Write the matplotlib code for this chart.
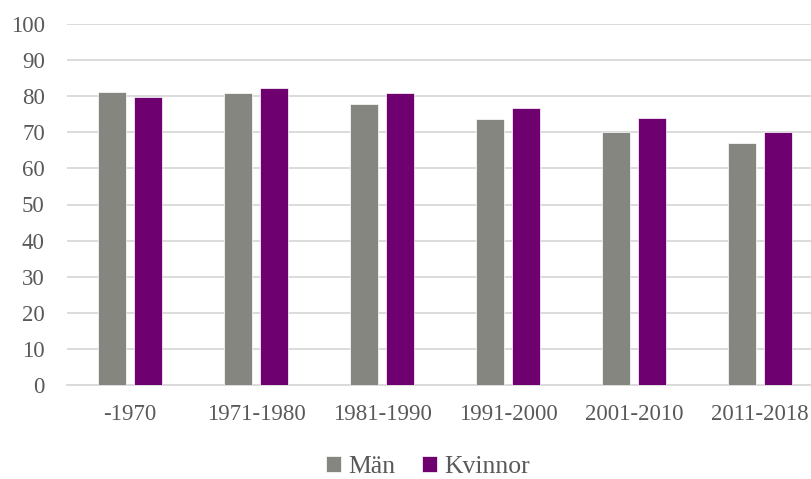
import numpy as np
import matplotlib.pyplot as plt

# Data
periods = ["-1970", "1971-1980", "1981-1990", "1991-2000", "2001-2010", "2011-2018"]
man = [81.2, 81.0, 77.8, 73.8, 70.1, 66.9]
kvinnor = [79.7, 82.4, 81.0, 76.8, 74.0, 70.2]

plt.rcParams['font.family'] = ['Liberation Serif', 'DejaVu Serif']
text_col = '#595959'

fig = plt.figure(figsize=(8.11, 4.79), dpi=100)
ax = fig.add_axes([67 / 811, (479 - 385) / 479, 756 / 811, 361 / 479])

x = np.arange(len(periods))
w = 0.225
off = 0.143
ax.bar(x - off, man, width=w, color='#868681', edgecolor='white', linewidth=0.5,
       label='Män', zorder=3)
ax.bar(x + off, kvinnor, width=w, color='#6f0070', edgecolor='white', linewidth=0.5,
       label='Kvinnor', zorder=3)

ax.set_xlim(-0.5, len(periods) - 0.5)
ax.set_ylim(0, 100)
ax.set_yticks(range(0, 101, 10))
ax.set_xticks(x)
ax.set_xticklabels(periods)
ax.grid(axis='y', color='#d9d9d9', linewidth=1.3, zorder=0)
for s in ['top', 'right', 'left']:
    ax.spines[s].set_visible(False)
ax.spines['bottom'].set_color('#d9d9d9')
ax.spines['bottom'].set_linewidth(1.3)
ax.tick_params(length=0, labelsize=16.5, colors=text_col)
ax.tick_params(axis='x', pad=14)
ax.tick_params(axis='y', pad=16)

leg = fig.legend(loc='center', bbox_to_anchor=(428 / 811, 1 - 467 / 479), ncol=2,
                 frameon=False, fontsize=18.5, handlelength=0.6, handleheight=0.6,
                 handletextpad=0.3, columnspacing=1.0)
for t in leg.get_texts():
    t.set_color(text_col)

fig.savefig('out.png', dpi=100)
